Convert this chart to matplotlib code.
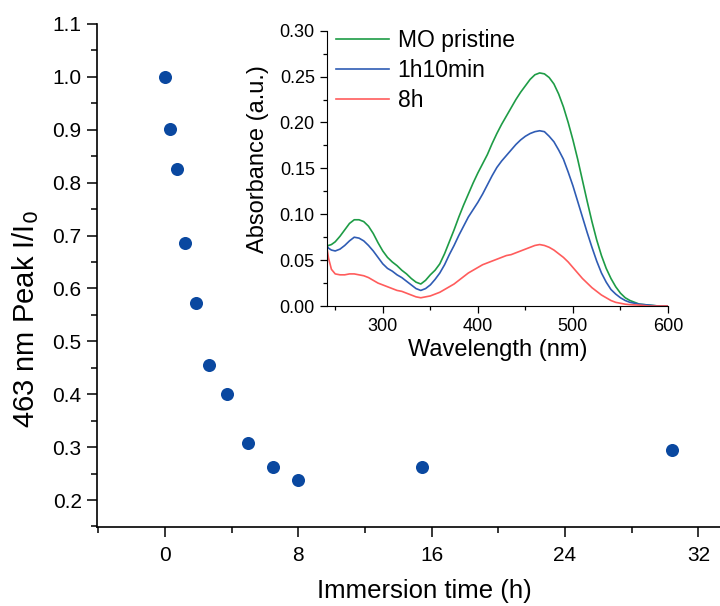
# Dye degradation: 463 nm peak vs immersion time, with UV-vis spectra inset
import numpy as np
import matplotlib.pyplot as plt
from matplotlib.ticker import MultipleLocator

plt.rcParams['font.family'] = ['Liberation Sans', 'DejaVu Sans']

# Main plot data
time_h = [0, 0.33, 0.7, 1.2, 1.85, 2.67, 3.7, 5.0, 6.5, 8.0, 15.4, 30.4]
ratio = [1.0, 0.902, 0.825, 0.685, 0.572, 0.455, 0.401, 0.308, 0.263, 0.238, 0.262, 0.295]

# Inset spectra
wavelength = [241, 243, 246, 250, 255, 260, 265, 270, 275, 280, 285, 290, 295, 300,
              305, 310, 315, 320, 325, 330, 335, 340, 345, 350, 355, 360, 365, 370,
              375, 380, 385, 390, 395, 400, 405, 410, 415, 420, 425, 430, 435, 440,
              445, 450, 455, 460, 465, 470, 475, 480, 485, 490, 495, 500, 505, 510,
              515, 520, 525, 530, 535, 540, 545, 550, 555, 560, 570, 580, 590, 600]
abs_pristine = [0.066, 0.066, 0.067, 0.070, 0.076, 0.083, 0.090, 0.094, 0.094, 0.092,
                0.087, 0.079, 0.069, 0.060, 0.053, 0.048, 0.044, 0.039, 0.035, 0.030,
                0.026, 0.024, 0.028, 0.034, 0.039, 0.046, 0.057, 0.070, 0.083, 0.097,
                0.110, 0.122, 0.134, 0.145, 0.155, 0.165, 0.177, 0.188, 0.198, 0.207,
                0.216, 0.225, 0.233, 0.240, 0.247, 0.252, 0.254, 0.253, 0.249, 0.242,
                0.231, 0.217, 0.200, 0.181, 0.160, 0.137, 0.114, 0.092, 0.072, 0.055,
                0.041, 0.030, 0.021, 0.014, 0.009, 0.006, 0.002, 0.001, 0.000, 0.000]
abs_1h10 = [0.066, 0.063, 0.061, 0.060, 0.062, 0.066, 0.071, 0.075, 0.074, 0.071,
            0.066, 0.060, 0.053, 0.046, 0.041, 0.038, 0.034, 0.031, 0.027, 0.023,
            0.019, 0.017, 0.019, 0.023, 0.029, 0.036, 0.045, 0.056, 0.066, 0.077,
            0.087, 0.097, 0.105, 0.113, 0.122, 0.132, 0.142, 0.151, 0.158, 0.164,
            0.170, 0.176, 0.181, 0.185, 0.188, 0.190, 0.191, 0.190, 0.185, 0.179,
            0.170, 0.160, 0.146, 0.131, 0.114, 0.097, 0.080, 0.064, 0.049, 0.036,
            0.026, 0.018, 0.013, 0.009, 0.006, 0.004, 0.002, 0.001, 0.000, 0.000]
abs_8h = [0.065, 0.052, 0.040, 0.035, 0.034, 0.034, 0.035, 0.035, 0.034, 0.033,
          0.031, 0.028, 0.025, 0.023, 0.021, 0.019, 0.017, 0.016, 0.014, 0.012,
          0.010, 0.009, 0.010, 0.011, 0.013, 0.015, 0.018, 0.021, 0.024, 0.028,
          0.032, 0.036, 0.039, 0.042, 0.045, 0.047, 0.049, 0.051, 0.053, 0.055,
          0.056, 0.058, 0.060, 0.062, 0.064, 0.066, 0.067, 0.066, 0.064, 0.061,
          0.057, 0.053, 0.048, 0.042, 0.036, 0.030, 0.025, 0.020, 0.016, 0.012,
          0.009, 0.006, 0.004, 0.003, 0.002, 0.0015, 0.001, 0.000, 0.000, 0.000]

fig = plt.figure(figsize=(7.2, 6.06), dpi=100)
ax = fig.add_axes([0.1347, 0.1304, 0.8653, 0.83])

ax.plot(time_h, ratio, 'o', color='#0a48a0', markersize=9.4, markeredgewidth=0)
ax.set_xlim(-4.08, 33.3)
ax.set_ylim(0.149, 1.1)
ax.xaxis.set_major_locator(MultipleLocator(8))
ax.xaxis.set_minor_locator(MultipleLocator(4))
ax.yaxis.set_major_locator(MultipleLocator(0.1))
ax.yaxis.set_minor_locator(MultipleLocator(0.05))
ax.spines['top'].set_visible(False)
ax.spines['right'].set_visible(False)
for s in ['left', 'bottom']:
    ax.spines[s].set_linewidth(1.2)
ax.tick_params(which='major', direction='out', length=7.5, width=1.1, labelsize=15)
ax.tick_params(axis='x', which='major', pad=6)
ax.tick_params(which='minor', direction='out', length=4.5, width=1.1)
ax.set_xlabel('Immersion time (h)', fontsize=18.5)
ax.xaxis.set_label_coords(0.526, -0.103)
ax.set_ylabel('463 nm Peak I/I$_0$', fontsize=21)
ax.yaxis.set_label_coords(-0.09, 0.414)

# Inset
ins = fig.add_axes([0.4537, 0.495, 0.4741, 0.4543])
ins.plot(wavelength, abs_pristine, color='#1e9c46', lw=1.2, label='MO pristine')
ins.plot(wavelength, abs_1h10, color='#2f5cb4', lw=1.2, label='1h10min')
ins.plot(wavelength, abs_8h, color='#ff5c5c', lw=1.2, label='8h')
ins.set_xlim(241, 600)
ins.set_ylim(0, 0.30)
ins.xaxis.set_major_locator(MultipleLocator(100))
ins.xaxis.set_minor_locator(MultipleLocator(50))
ins.yaxis.set_major_locator(MultipleLocator(0.05))
ins.yaxis.set_minor_locator(MultipleLocator(0.025))
ins.spines['top'].set_visible(False)
ins.spines['right'].set_visible(False)
ins.tick_params(which='major', direction='out', length=5, width=0.9, labelsize=13)
ins.tick_params(which='minor', direction='out', length=3, width=0.9)
ins.set_xlabel('Wavelength (nm)', fontsize=17, labelpad=3)
ins.set_ylabel('Absorbance (a.u.)', fontsize=17)
ins.yaxis.set_label_coords(-0.17, 0.534)
ins.legend(frameon=False, fontsize=16.5, loc='upper left', handlelength=2.3,
           handletextpad=0.4, labelspacing=0.3, borderaxespad=0.0,
           bbox_to_anchor=(0.0, 1.04))

fig.savefig('out.png', dpi=100)
